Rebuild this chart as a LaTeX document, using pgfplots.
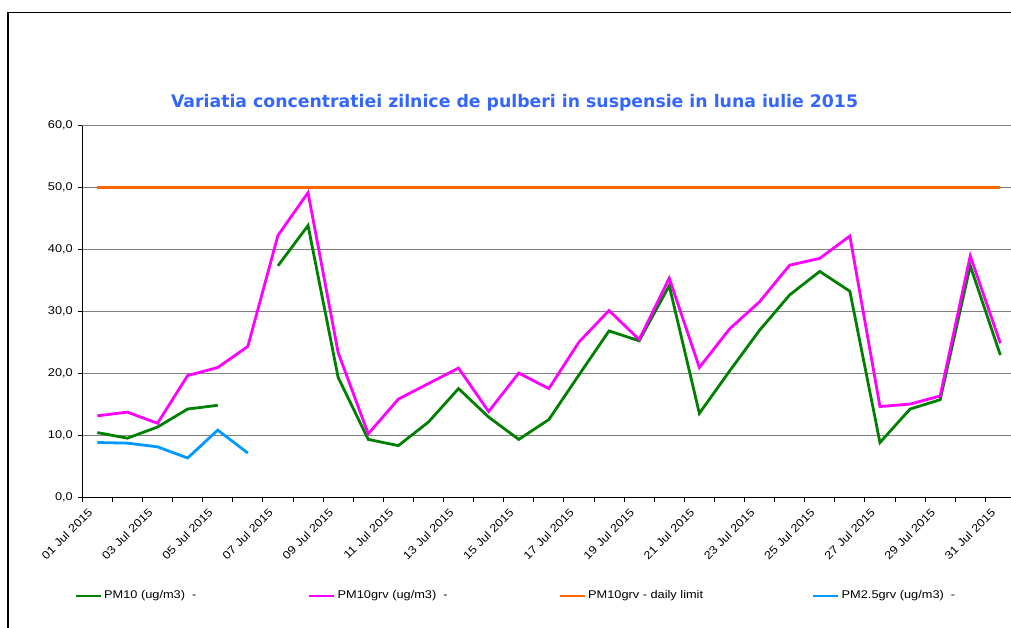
\documentclass[border=0pt]{standalone}
\usepackage{pgfplots}
\usepackage{pgfplotstable}
\pgfplotsset{compat=1.18}
\usepackage{fontspec}
\setmainfont{Liberation Sans}[FakeStretch=1.14]
\newfontfamily\titlefont{DejaVu Sans}
\definecolor{pmgreen}{RGB}{0,128,0}
\definecolor{pmmag}{RGB}{255,0,255}
\definecolor{pmorange}{RGB}{255,102,0}
\definecolor{pmblue}{RGB}{0,153,255}
\definecolor{titleblue}{RGB}{51,102,255}
\definecolor{gridgray}{RGB}{128,128,128}
\pgfplotstableread{
x pm10 grv lim pm25
0 10.5 13.2 50 8.9
1 9.6 13.8 50 8.8
2 11.4 12.0 50 8.2
3 14.3 19.7 50 6.4
4 14.9 21.0 50 10.9
5 nan 24.4 50 7.2
6 37.4 42.3 50 nan
7 43.9 49.2 50 nan
8 19.4 23.4 50 nan
9 9.4 10.3 50 nan
10 8.4 15.9 50 nan
11 12.2 18.4 50 nan
12 17.6 20.9 50 nan
13 13.0 13.9 50 nan
14 9.4 20.1 50 nan
15 12.6 17.6 50 nan
16 19.8 25.1 50 nan
17 26.9 30.2 50 nan
18 25.3 25.5 50 nan
19 34.2 35.4 50 nan
20 13.6 21.0 50 nan
21 20.4 27.2 50 nan
22 27.0 31.6 50 nan
23 32.7 37.5 50 nan
24 36.5 38.6 50 nan
25 33.3 42.2 50 nan
26 8.9 14.7 50 nan
27 14.3 15.1 50 nan
28 15.8 16.4 50 nan
29 37.4 39.0 50 nan
30 23.0 24.9 50 nan
}\data
\begin{document}
\begin{tikzpicture}[x=1pt,y=1pt]
\useasboundingbox (0,0) rectangle (1011,628);
\begin{axis}[
  at={(82.3pt,130.3pt)}, anchor=south west, scale only axis,
  width=933.1pt, height=372pt,
  xmin=-0.5, xmax=30.5, ymin=0, ymax=60,
  axis x line*=bottom, axis y line*=left,
  axis line style={-, black, line width=1.3pt},
  tick align=outside, major tick length=4pt,
  tick style={black, line width=1pt},
  ytick={0,10,...,60},
  yticklabels={{0,0},{10,0},{20,0},{30,0},{40,0},{50,0},{60,0}},
  yticklabel style={xshift=-2pt},
  ymajorgrids, grid style={gridgray, line width=1.1pt},
  xtick={-0.5,0.5,...,30.5}, xticklabel=\empty,
  extra x ticks={0,2,...,30},
  extra x tick labels={01 Jul 2015,03 Jul 2015,05 Jul 2015,07 Jul 2015,09 Jul 2015,11 Jul 2015,13 Jul 2015,15 Jul 2015,17 Jul 2015,19 Jul 2015,21 Jul 2015,23 Jul 2015,25 Jul 2015,27 Jul 2015,29 Jul 2015,31 Jul 2015},
  extra x tick style={major tick length=0pt, grid=none,
    tick label style={xshift=-10pt, yshift=-5pt, rotate=45, anchor=north east}},
  tick label style={font=\fontsize{11.2}{13}\selectfont},
  unbounded coords=jump,
  clip=false,
]
\addplot[pmgreen, line width=2.8pt] table[x=x,y=pm10]{\data};
\addplot[pmmag, line width=2.8pt] table[x=x,y=grv]{\data};
\addplot[pmorange, line width=2.8pt] table[x=x,y=lim]{\data};
\addplot[pmblue, line width=2.8pt] table[x=x,y=pm25]{\data};
\end{axis}
\node[text=titleblue, font=\titlefont\bfseries\fontsize{17.3}{20}\selectfont] at (514.5,525) {Variatia concentratiei zilnice de pulberi in suspensie in luna iulie 2015};
\draw[line width=1.5pt] (8,-2) -- (8,615.7) -- (1020,615.7);
\begin{scope}[font=\fontsize{11.2}{13}\selectfont]
\draw[pmgreen, line width=2.8pt] (76,32) -- (101,32);
\node[anchor=west, inner sep=0pt] at (104,32) {PM10 (ug/m3)\ \ -};
\draw[pmmag, line width=2.8pt] (309,32) -- (334,32);
\node[anchor=west, inner sep=0pt] at (337.5,32) {PM10grv (ug/m3)\ \ -};
\draw[pmorange, line width=2.8pt] (560,32) -- (585,32);
\node[anchor=west, inner sep=0pt] at (588,32) {PM10grv - daily limit};
\draw[pmblue, line width=2.8pt] (813,32) -- (838,32);
\node[anchor=west, inner sep=0pt] at (841.5,32) {PM2.5grv (ug/m3)\ \ -};
\end{scope}
\end{tikzpicture}
\end{document}
